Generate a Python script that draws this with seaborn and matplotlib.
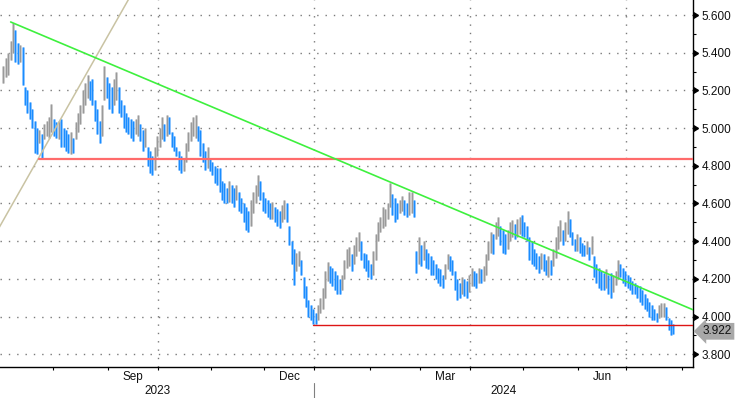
import numpy as np
import pandas as pd
import seaborn as sns
import matplotlib.pyplot as plt
from matplotlib.ticker import FixedLocator, NullFormatter

# daily bars (weekdays from 3 Jul 2023)
start = "2023-07-03"
high = [
    5.33, 5.37, 5.40, 5.46, 5.56, 5.52, 5.45, 5.44, 5.43, 5.22,
    5.20, 5.14, 5.10, 5.04, 5.00, 4.99, 4.97, 5.02, 5.04, 5.06,
    5.13, 5.05, 5.03, 5.04, 5.05, 5.00, 4.99, 4.97, 4.98, 4.95,
    5.03, 5.08, 5.12, 5.20, 5.24, 5.28, 5.25, 5.26, 5.15, 5.10,
    5.04, 5.12, 5.33, 5.27, 5.24, 5.22, 5.26, 5.30, 5.22, 5.15,
    5.12, 5.08, 5.06, 5.05, 5.04, 5.05, 5.07, 5.02, 4.99, 5.00,
    4.90, 4.88, 4.85, 4.90, 4.96, 5.00, 5.06, 5.02, 5.07, 5.06,
    4.98, 4.96, 4.90, 4.88, 4.85, 4.84, 4.92, 4.98, 5.03, 5.06,
    5.07, 5.01, 4.99, 4.92, 4.88, 4.90, 4.84, 4.82, 4.80, 4.79,
    4.79, 4.72, 4.71, 4.68, 4.72, 4.70, 4.68, 4.70, 4.66, 4.63,
    4.60, 4.58, 4.56, 4.62, 4.66, 4.70, 4.75, 4.72, 4.66, 4.63,
    4.62, 4.60, 4.61, 4.58, 4.57, 4.56, 4.59, 4.62, 4.60, 4.48,
    4.40, 4.36, 4.34, 4.35, 4.30, 4.21, 4.16, 4.09, 4.06, 4.04,
    4.02, 4.06, 4.10, 4.15, 4.24, 4.29, 4.27, 4.26, 4.24, 4.22,
    4.20, 4.22, 4.30, 4.36, 4.37, 4.33, 4.38, 4.42, 4.45, 4.40,
    4.34, 4.33, 4.30, 4.28, 4.35, 4.44, 4.50, 4.53, 4.58, 4.57,
    4.60, 4.71, 4.65, 4.63, 4.60, 4.62, 4.64, 4.62, 4.60, 4.66,
    4.66, 4.62, 4.35, 4.42, 4.38, 4.40, 4.36, 4.34, 4.32, 4.30,
    4.28, 4.26, 4.25, 4.22, 4.28, 4.33, 4.32, 4.30, 4.24, 4.20,
    4.18, 4.21, 4.20, 4.19, 4.22, 4.26, 4.24, 4.23, 4.26, 4.25,
    4.27, 4.33, 4.40, 4.45, 4.44, 4.50, 4.53, 4.48, 4.46, 4.44,
    4.46, 4.50, 4.51, 4.49, 4.52, 4.53, 4.54, 4.50, 4.48, 4.42,
    4.40, 4.36, 4.34, 4.32, 4.34, 4.33, 4.30, 4.32, 4.30, 4.36,
    4.42, 4.48, 4.51, 4.46, 4.50, 4.56, 4.52, 4.45, 4.41, 4.44,
    4.42, 4.39, 4.38, 4.40, 4.37, 4.43, 4.32, 4.28, 4.26, 4.24,
    4.23, 4.25, 4.22, 4.23, 4.22, 4.24, 4.30, 4.28, 4.26, 4.24,
    4.22, 4.21, 4.19, 4.18, 4.17, 4.16, 4.14, 4.12, 4.10, 4.08,
    4.06, 4.04, 4.02, 4.06, 4.07, 4.07, 4.05, 3.99, 3.98, 3.96,
]
low = [
    5.24, 5.27, 5.28, 5.36, 5.40, 5.35, 5.34, 5.35, 5.23, 5.12,
    5.08, 5.05, 5.00, 4.87, 4.86, 4.92, 4.84, 4.94, 4.96, 4.95,
    4.98, 4.96, 4.95, 4.94, 4.90, 4.90, 4.88, 4.87, 4.86, 4.87,
    4.94, 4.98, 5.02, 5.08, 5.12, 5.16, 5.15, 5.12, 5.04, 4.97,
    4.92, 4.96, 5.15, 5.16, 5.10, 5.08, 5.12, 5.15, 5.08, 5.06,
    5.00, 4.98, 4.97, 4.95, 4.93, 4.97, 4.96, 4.93, 4.88, 4.90,
    4.80, 4.76, 4.75, 4.78, 4.85, 4.90, 4.94, 4.93, 4.96, 4.97,
    4.90, 4.88, 4.85, 4.78, 4.76, 4.77, 4.82, 4.88, 4.93, 4.96,
    4.95, 4.93, 4.85, 4.82, 4.78, 4.79, 4.77, 4.75, 4.71, 4.70,
    4.66, 4.62, 4.60, 4.60, 4.61, 4.60, 4.58, 4.62, 4.56, 4.55,
    4.50, 4.46, 4.45, 4.48, 4.55, 4.60, 4.64, 4.62, 4.56, 4.55,
    4.53, 4.52, 4.52, 4.50, 4.48, 4.47, 4.50, 4.52, 4.50, 4.38,
    4.28, 4.17, 4.24, 4.27, 4.22, 4.10, 4.05, 4.00, 3.98, 3.96,
    3.96, 3.98, 4.02, 4.04, 4.10, 4.19, 4.18, 4.16, 4.14, 4.12,
    4.12, 4.14, 4.20, 4.26, 4.27, 4.24, 4.28, 4.32, 4.35, 4.30,
    4.26, 4.24, 4.21, 4.20, 4.22, 4.30, 4.40, 4.45, 4.47, 4.48,
    4.52, 4.58, 4.54, 4.50, 4.52, 4.55, 4.56, 4.54, 4.53, 4.54,
    4.55, 4.53, 4.23, 4.28, 4.27, 4.30, 4.26, 4.25, 4.22, 4.22,
    4.20, 4.18, 4.16, 4.15, 4.20, 4.25, 4.24, 4.22, 4.14, 4.09,
    4.10, 4.12, 4.11, 4.10, 4.13, 4.16, 4.16, 4.15, 4.18, 4.18,
    4.19, 4.22, 4.30, 4.34, 4.33, 4.41, 4.43, 4.38, 4.34, 4.33,
    4.36, 4.40, 4.42, 4.41, 4.42, 4.44, 4.43, 4.42, 4.40, 4.30,
    4.28, 4.27, 4.25, 4.23, 4.25, 4.24, 4.22, 4.21, 4.22, 4.27,
    4.31, 4.36, 4.40, 4.38, 4.40, 4.44, 4.42, 4.38, 4.35, 4.35,
    4.34, 4.32, 4.32, 4.33, 4.30, 4.33, 4.21, 4.18, 4.15, 4.14,
    4.14, 4.15, 4.12, 4.10, 4.13, 4.17, 4.20, 4.21, 4.18, 4.16,
    4.15, 4.14, 4.12, 4.12, 4.10, 4.08, 4.06, 4.04, 4.03, 4.00,
    3.98, 3.98, 3.97, 3.99, 4.00, 4.00, 3.98, 3.93, 3.90, 3.91,
]
last_value = 3.922

# drawn trend lines: (dates, values)
green_dates, green_vals = ["2023-07-06", "2024-08-08"], [5.563, 4.032]
red_dates, red_vals = ["2023-07-24", "2024-08-08"], [4.835, 4.835]
floor_dates, floor_vals = ["2023-12-29", "2024-08-08"], [3.955, 3.955]
tan_dates, tan_vals = ["2023-06-29", "2023-09-22"], [4.468, 5.838]

y_major = [3.8, 4.0, 4.2, 4.4, 4.6, 4.8, 5.0, 5.2, 5.4, 5.6]
y_minor = [3.9, 4.1, 4.3, 4.5, 4.7, 4.9, 5.1, 5.3, 5.5]
month_labels = {"2023-09": "Sep", "2023-12": "Dec", "2024-03": "Mar", "2024-06": "Jun"}
years = ["2023", "2024"]

BLUE, BLUE_LT = "#1a8cff", "#8cc6ff"
GREY, GREY_LT = "#9a9a9a", "#cfcfcf"


def pos(d):
    return np.busday_count(start, np.array(d, dtype="datetime64[D]"))


sns.set_style("white")
plt.rcParams["font.family"] = ["Liberation Sans", "DejaVu Sans"]

df = pd.DataFrame({"high": high, "low": low})
df["x"] = np.arange(len(df))
mid = (df["high"] + df["low"]) / 2
df["down"] = mid.diff().fillna(0) < 0

fig = plt.figure(figsize=(7.36, 3.98), dpi=100)
ax = fig.add_axes([0, 31 / 398, 693 / 736, 367 / 398])
xlim = (-1.45, 287.2)
ax.set_xlim(*xlim)
ax.set_ylim(3.7326, 5.6796)

# grid
dot = (0, (1, 5))
for v in y_major:
    ax.axhline(v, color="#7a7a7a", lw=1.0, ls=dot, zorder=1)
months = pd.date_range("2023-07-01", "2024-08-01", freq="MS")
bounds = pos(months.values.astype("datetime64[D]")) - 0.5
for m, b in zip(months, bounds):
    if m.month in (1, 4, 7, 10) and b > xlim[0] + 1:
        ax.axvline(b, color="#7a7a7a", lw=1.0, ls=dot, zorder=1)

# bars
cols_lt = np.where(df["down"], BLUE_LT, GREY_LT)
cols = np.where(df["down"], BLUE, GREY)
ax.vlines(df["x"], df["low"], df["high"], colors=cols_lt, lw=1.8, zorder=2)
ax.vlines(df["x"], df["low"], df["high"], colors=cols, lw=1.0, zorder=3)

# trend lines
sns.lineplot(x=pos(tan_dates), y=tan_vals, ax=ax, color="#c9c3a3", lw=1.1, zorder=4)
sns.lineplot(x=pos(red_dates), y=red_vals, ax=ax, color="#ff6b6b", lw=1.6, zorder=4)
sns.lineplot(x=pos(floor_dates), y=floor_vals, ax=ax, color="#dd1515", lw=1.0, zorder=4)
sns.lineplot(x=pos(green_dates), y=green_vals, ax=ax, color="#3ef03e", lw=1.2, zorder=5)

# spines
for s in ["top", "left"]:
    ax.spines[s].set_visible(False)
for s in ["right", "bottom"]:
    ax.spines[s].set_color("black")
    ax.spines[s].set_linewidth(1.0)

# y axis on the right
ax.yaxis.tick_right()
ax.yaxis.set_major_locator(FixedLocator(y_major))
ax.yaxis.set_minor_locator(FixedLocator(y_minor))
ax.set_yticklabels([f"{v:.3f}" for v in y_major])
ax.tick_params(axis="y", which="major", length=0, pad=6, labelsize=8.5, labelcolor="#111111")
ax.tick_params(axis="y", which="minor", right=True, length=2.5, width=0.8, color="black")
ax.plot(np.ones(len(y_major)), y_major, ls="none", marker=9, ms=5, color="black",
        transform=ax.get_yaxis_transform(), clip_on=False, zorder=6)

# x axis: month boundaries, labels for the middle month of each quarter
ax.xaxis.set_major_locator(FixedLocator(bounds))
ax.xaxis.set_major_formatter(NullFormatter())
ax.tick_params(axis="x", which="major", bottom=True, length=2.5, width=0.8, color="black")
centers, labels = [], []
for i, m in enumerate(months[:-1]):
    key = m.strftime("%Y-%m")
    if key in month_labels:
        centers.append((bounds[i] + bounds[i + 1]) / 2)
        labels.append(month_labels[key])
ax.xaxis.set_minor_locator(FixedLocator(centers))
ax.set_xticklabels(labels, minor=True)
ax.tick_params(axis="x", which="minor", length=0, pad=3, labelsize=8.5, labelcolor="#111111")

jan = pos(["2024-01-01"])[0] - 0.5
year_x = [(xlim[0] + jan) / 2, (jan + xlim[1]) / 2]
for yx, yl in zip(year_x, years):
    ax.text(yx, -0.066, yl, transform=ax.get_xaxis_transform(), ha="center", va="center",
            fontsize=8.5, color="#111111")
ax.plot([jan, jan], [-0.044, -0.09], color="#808080", lw=0.8,
        transform=ax.get_xaxis_transform(), clip_on=False)

# last value tag
ax.annotate(f"{last_value:.3f}", xy=(1.0, last_value), xycoords=ax.get_yaxis_transform(),
            xytext=(7, 0), textcoords="offset points", ha="left", va="center",
            fontsize=8.5, color="#111111",
            bbox=dict(boxstyle="larrow,pad=0.2", fc="#a8a8a8", ec="none"))

fig.savefig("out.png", dpi=100)
